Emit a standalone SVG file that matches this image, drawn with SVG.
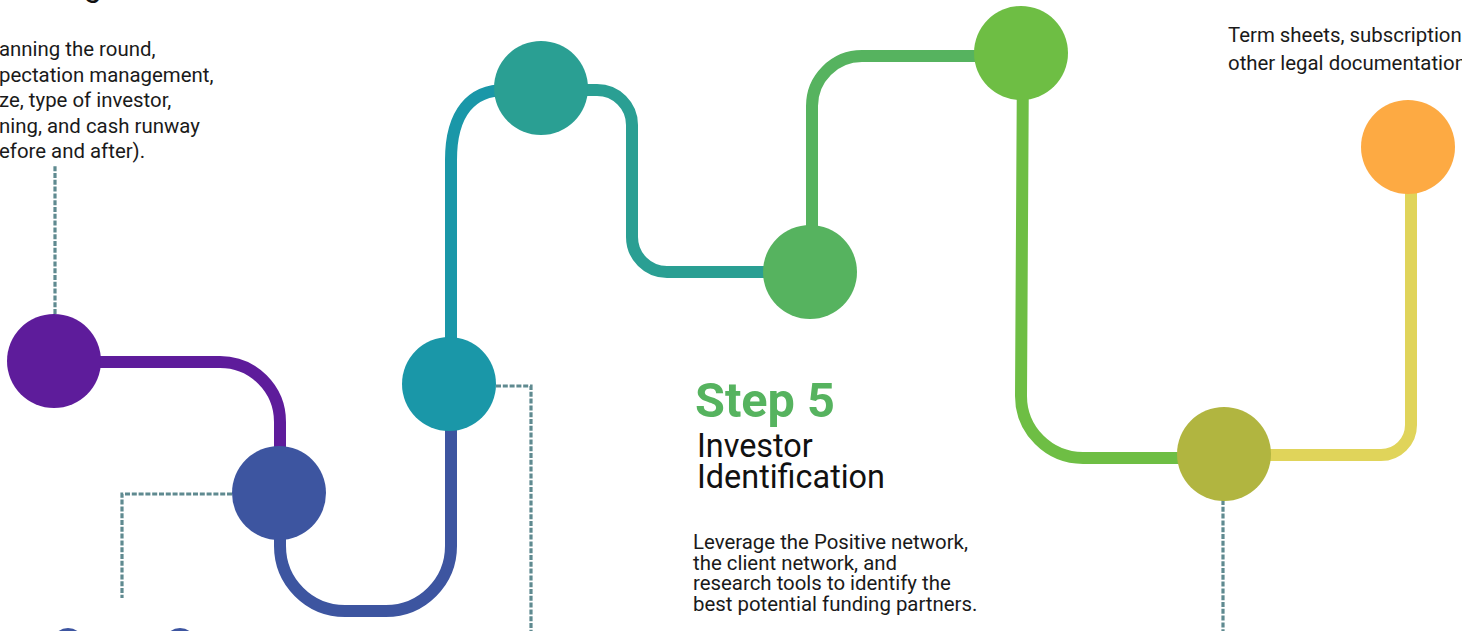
<svg xmlns="http://www.w3.org/2000/svg" width="1462" height="631" viewBox="0 0 1462 631">
<style>
.path{fill:none;stroke-width:12;stroke-linecap:butt;stroke-linejoin:round}
.dash{fill:none;stroke:#5F8A90;stroke-width:3.2;stroke-linecap:butt;stroke-dasharray:5 1.8}
.body{font-family:Roboto,"Liberation Sans",sans-serif;font-size:20.4px;fill:#1a1a1a}
.title{font-family:Roboto,"Liberation Sans",sans-serif;font-size:32.4px;fill:#111}
.step{font-family:Roboto,"Liberation Sans",sans-serif;font-size:48.6px;font-weight:bold;fill:#56B35F}
</style>
<rect width="1462" height="631" fill="#fff"/>
<g id="connectors">
<path class="path" stroke="#5E1C9B" d="M54 362 L220 362 A60 60 0 0 1 280 422 L280 493"/>
<path class="path" stroke="#3D55A0" d="M280 493 L280 546 A65 65 0 0 0 345 611 L386 611 A65 65 0 0 0 451 546 L451 384"/>
<path class="path" stroke="#1A97A8" d="M451 384 L451 160 C451 112 472 90 505 90 L541 90"/>
<path class="path" stroke="#2A9F93" d="M541 90 L597 90 A35 35 0 0 1 632 125 L632 237 A35 35 0 0 0 667 272 L810 272"/>
<path class="path" stroke="#56B35F" d="M812 272 L812 106 A50 50 0 0 1 862 56 L1021 56"/>
<path class="path" stroke="#6EBE44" d="M1023 53 L1021 396 A62 62 0 0 0 1083 458 L1224 458"/>
<path class="path" stroke="#E0D45A" d="M1224 455 L1381 455 A30 30 0 0 0 1411 425 L1411 147"/>
<path class="dash" d="M55 314 L55 165"/>
<path class="dash" d="M232 494 L122 494 L122 598"/>
<path class="dash" d="M496 386 L531 386 L531 631"/>
<path class="dash" d="M1223 500 L1223 631"/>
</g>
<g id="node1"><circle cx="54" cy="361" r="47" fill="#5E1C9B"/></g>
<g id="node2"><circle cx="279" cy="493" r="47" fill="#3D55A0"/></g>
<g id="node3"><circle cx="449" cy="384" r="47" fill="#1A97A8"/></g>
<g id="node4"><circle cx="541" cy="88" r="47" fill="#2A9F93"/></g>
<g id="node5"><circle cx="810" cy="272" r="47" fill="#56B35F"/></g>
<g id="node6"><circle cx="1021" cy="53" r="47" fill="#6EBE44"/></g>
<g id="node7"><circle cx="1224" cy="454" r="47" fill="#B1B540"/></g>
<g id="node8"><circle cx="1408" cy="147" r="47" fill="#FDAA43"/></g>
<g id="node9"><circle cx="68" cy="644" r="16" fill="#3D55A0"/></g>
<g id="node10"><circle cx="180" cy="644" r="16" fill="#3D55A0"/></g>
<g id="text-left">
<text class="title" x="84" y="-4">g</text>
<text class="body" x="-1" y="56">anning the round,</text>
<text class="body" x="-1" y="81.5">pectation management,</text>
<text class="body" x="-1" y="107">ze, type of investor,</text>
<text class="body" x="-1" y="132.5">ning, and cash runway</text>
<text class="body" x="-1" y="158">efore and after).</text>
</g>
<g id="text-step5">
<text class="step" x="695" y="417">Step 5</text>
<text class="title" x="697" y="457">Investor</text>
<text class="title" x="697" y="488">Identification</text>
<text class="body" x="693" y="549">Leverage the Positive network,</text>
<text class="body" x="693" y="569.7">the client network, and</text>
<text class="body" x="693" y="590.4">research tools to identify the</text>
<text class="body" x="693" y="611">best potential funding partners.</text>
</g>
<g id="text-right">
<text class="body" x="1228" y="42">Term sheets, subscription</text>
<text class="body" x="1228" y="70">other legal documentation</text>
</g>
</svg>
